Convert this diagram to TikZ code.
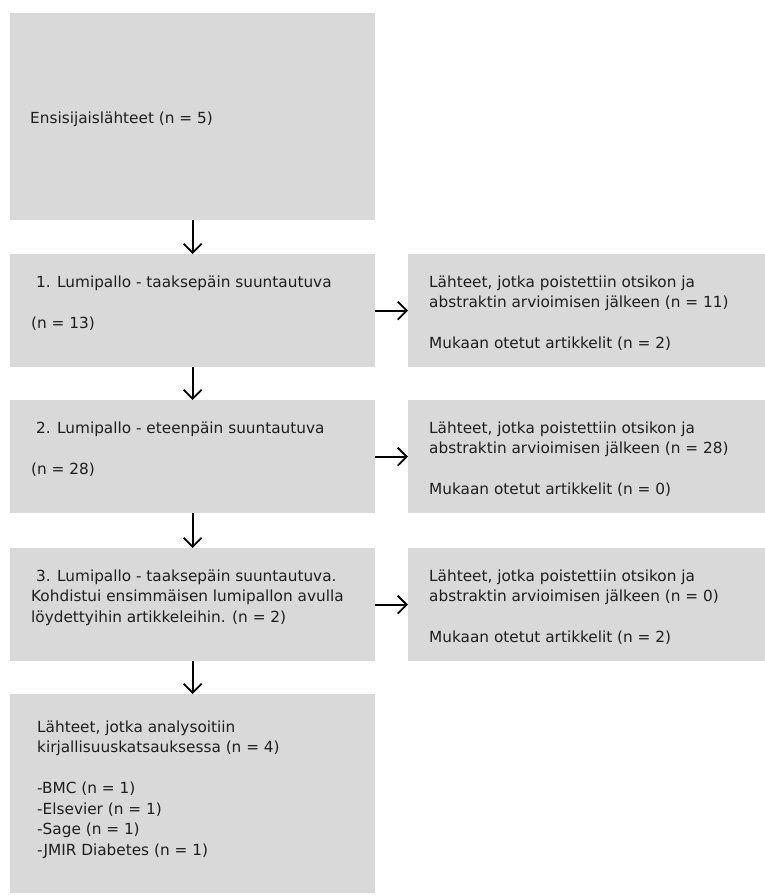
\documentclass[tikz,border=0pt]{standalone}
\usepackage{fontspec}
\setmainfont{DejaVu Sans}
\usetikzlibrary{arrows.meta}
\definecolor{boxgray}{HTML}{D9D9D9}
\definecolor{ink}{HTML}{1E1E1E}
\tikzset{
  box/.style={fill=boxgray, draw=none, anchor=north west, inner sep=0pt},
  txt/.style={inner sep=0pt, anchor=base west, text=ink, font=\fontsize{15.3}{20.5}\selectfont},
  arr/.style={-{Straight Barb[length=9pt,width=18pt]}, line width=1.8pt, black}
}
\begin{document}
\begin{tikzpicture}[x=1pt,y=-1pt]
\useasboundingbox (0,0) rectangle (765,895);
% boxes
\node[box, minimum width=365pt, minimum height=207pt] (b0) at (10,13) {};
\node[box, minimum width=365pt, minimum height=113pt] (b1) at (10,254) {};
\node[box, minimum width=357pt, minimum height=113pt] (r1) at (408,254) {};
\node[box, minimum width=365pt, minimum height=113pt] (b2) at (10,400) {};
\node[box, minimum width=357pt, minimum height=113pt] (r2) at (408,400) {};
\node[box, minimum width=365pt, minimum height=113pt] (b3) at (10,548) {};
\node[box, minimum width=357pt, minimum height=113pt] (r3) at (408,548) {};
\node[box, minimum width=365pt, minimum height=199pt] (b4) at (10,694) {};
% texts
\node[txt] (t0) at (30,123.5) {Ensisijaislähteet (n = 5)};
\node[txt] (t1) at (31,287) {\parbox[t]{340pt}{\raggedright\ 1. Lumipallo - taaksepäin suuntautuva\\[20.5pt](n = 13)}};
\node[txt] (u1) at (429,287) {\parbox[t]{330pt}{\raggedright Lähteet, jotka poistettiin otsikon ja\\abstraktin arvioimisen jälkeen (n = 11)\\[20.5pt]Mukaan otetut artikkelit (n = 2)}};
\node[txt] (t2) at (31,433) {\parbox[t]{340pt}{\raggedright\ 2. Lumipallo - eteenpäin suuntautuva\\[20.5pt](n = 28)}};
\node[txt] (u2) at (429,433) {\parbox[t]{330pt}{\raggedright Lähteet, jotka poistettiin otsikon ja\\abstraktin arvioimisen jälkeen (n = 28)\\[20.5pt]Mukaan otetut artikkelit (n = 0)}};
\node[txt] (t3) at (31,581) {\parbox[t]{340pt}{\raggedright\ 3. Lumipallo - taaksepäin suuntautuva.\\Kohdistui ensimmäisen lumipallon avulla\\löydettyihin artikkeleihin. (n = 2)}};
\node[txt] (u3) at (429,581) {\parbox[t]{330pt}{\raggedright Lähteet, jotka poistettiin otsikon ja\\abstraktin arvioimisen jälkeen (n = 0)\\[20.5pt]Mukaan otetut artikkelit (n = 2)}};
\node[txt] (t4) at (37,732) {\parbox[t]{330pt}{\raggedright Lähteet, jotka analysoitiin\\kirjallisuuskatsauksessa (n = 4)\\[20.5pt]-BMC (n = 1)\\-Elsevier (n = 1)\\-Sage (n = 1)\\-JMIR Diabetes (n = 1)}};
% arrows
\draw[arr] (b0.south) -- (b1.north);
\draw[arr] (b1.south) -- (b2.north);
\draw[arr] (b2.south) -- (b3.north);
\draw[arr] (b3.south) -- (b4.north);
\draw[arr] (b1.east) -- (r1.west);
\draw[arr] (b2.east) -- (r2.west);
\draw[arr] (b3.east) -- (r3.west);
\end{tikzpicture}
\end{document}
